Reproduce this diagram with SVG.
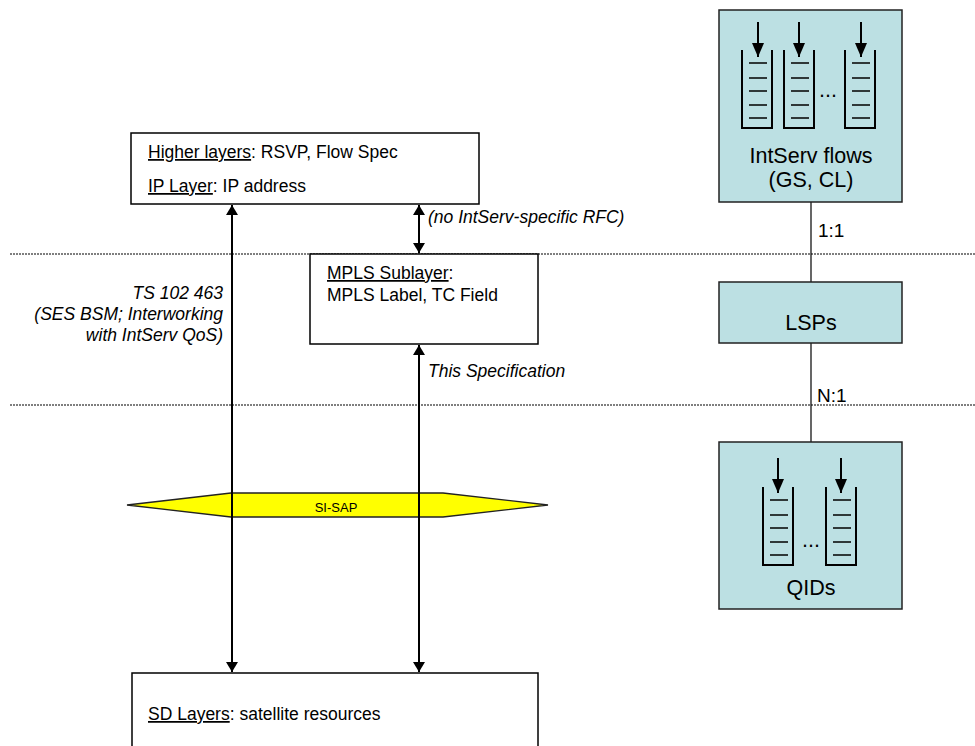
<svg xmlns="http://www.w3.org/2000/svg" width="975" height="746" viewBox="0 0 975 746">
<defs>
<style>
text{font-family:"Liberation Sans",Arial,sans-serif;fill:#000}
.t{font-size:17.5px}
.it{font-size:17.5px;font-style:italic}
.r{font-size:21.5px;text-anchor:middle}
.u{text-decoration:underline}
.box{fill:#fff;stroke:#000;stroke-width:1.5}
.tbox{fill:#BCE0E3;stroke:#222;stroke-width:1.5}
.dot{stroke:#000;stroke-width:1.2;stroke-dasharray:2 1;fill:none}
.arr{stroke:#000;stroke-width:2;fill:none}
.ln{stroke:#000;stroke-width:1.2;fill:none}
.q{stroke:#000;stroke-width:2;fill:none}
.qi{stroke:#000;stroke-width:1.5}
</style>
<marker id="ah" viewBox="0 0 10 12" refX="10" refY="6" markerWidth="10" markerHeight="12" markerUnits="userSpaceOnUse" orient="auto">
<path d="M0,0 L10,6 L0,12 Z" fill="#000"/>
</marker>
<marker id="ahs" viewBox="0 0 10 12" refX="10" refY="6" markerWidth="10" markerHeight="12" markerUnits="userSpaceOnUse" orient="auto-start-reverse">
<path d="M0,0 L10,6 L0,12 Z" fill="#000"/>
</marker>
<g id="queue">
<path class="q" d="M0,0 V78 H30 V0"/>
<path class="qi" d="M7,13 H25 M7,28 H25 M7,41 H25 M7,55 H25 M7,68 H25"/>
</g>
<marker id="qa" viewBox="0 0 12 14" refX="6" refY="14" markerWidth="12" markerHeight="14" markerUnits="userSpaceOnUse" orient="0">
<path d="M0,0 L12,0 L6,14 Z" fill="#000"/>
</marker>
</defs>
<rect width="975" height="746" fill="#fff"/>

<g id="separators">
<line class="dot" x1="10" y1="254" x2="975" y2="254"/>
<line class="dot" x1="10" y1="405" x2="975" y2="405"/>
</g>

<g id="higher-layers">
<rect class="box" x="131" y="133" width="348" height="71"/>
<text class="t" x="148" y="158"><tspan class="u">Higher layers</tspan>: RSVP, Flow Spec</text>
<text class="t" x="148" y="192"><tspan class="u">IP Layer</tspan>: IP address</text>
</g>

<g id="mpls-sublayer">
<rect class="box" x="310" y="254" width="228" height="90"/>
<text class="t" x="327" y="279"><tspan class="u">MPLS Sublayer</tspan>:</text>
<text class="t" x="327" y="301">MPLS Label, TC Field</text>
</g>

<g id="sd-layers">
<rect class="box" x="132" y="673" width="406" height="90"/>
<text class="t" x="148" y="720"><tspan class="u">SD Layers</tspan>: satellite resources</text>
</g>

<g id="si-sap">
<polygon points="127,505 231,493 443,493 548,505 443,517 231,517" fill="#FFFF00" stroke="#222" stroke-width="1.3"/>
</g>

<g id="connectors">
<line class="arr" x1="232" y1="205" x2="232" y2="672" marker-start="url(#ahs)" marker-end="url(#ah)"/>
<line class="arr" x1="419" y1="205" x2="419" y2="253" marker-start="url(#ahs)" marker-end="url(#ah)"/>
<line class="arr" x1="419" y1="345" x2="419" y2="672" marker-start="url(#ahs)" marker-end="url(#ah)"/>
<line class="ln" x1="811" y1="202" x2="811" y2="282"/>
<line class="ln" x1="811" y1="343" x2="811" y2="442"/>
</g>

<g id="si-sap-label">
<text x="336" y="512" style="font-size:13px;text-anchor:middle">SI-SAP</text>
</g>

<g id="labels">
<text class="it" x="428" y="223">(no IntServ-specific RFC)</text>
<text class="it" x="428" y="377">This Specification</text>
<text class="it" x="223" y="299" text-anchor="end">TS 102 463</text>
<text class="it" x="223" y="320" text-anchor="end">(SES BSM; Interworking</text>
<text class="it" x="223" y="341" text-anchor="end">with IntServ QoS)</text>
<text x="818" y="237" style="font-size:19px">1:1</text>
<text x="817" y="402" style="font-size:19px">N:1</text>
</g>

<g id="intserv-flows">
<rect class="tbox" x="719" y="10" width="183" height="192"/>
<use href="#queue" x="742" y="50"/>
<use href="#queue" x="784" y="50"/>
<use href="#queue" x="845" y="50"/>
<line class="arr" x1="758" y1="22" x2="758" y2="57" marker-end="url(#qa)" style="stroke-width:2"/>
<line class="arr" x1="799" y1="22" x2="799" y2="57" marker-end="url(#qa)"/>
<line class="arr" x1="861" y1="22" x2="861" y2="57" marker-end="url(#qa)"/>
<text x="819" y="97" style="font-size:21.5px">...</text>
<text class="r" x="811" y="163">IntServ flows</text>
<text class="r" x="811" y="187">(GS, CL)</text>
</g>

<g id="lsps">
<rect class="tbox" x="719" y="282" width="183" height="61"/>
<text class="r" x="811" y="330">LSPs</text>
</g>

<g id="qids">
<rect class="tbox" x="719" y="442" width="183" height="167"/>
<use href="#queue" x="763" y="487"/>
<use href="#queue" x="826" y="487"/>
<line class="arr" x1="778" y1="458" x2="778" y2="493" marker-end="url(#qa)"/>
<line class="arr" x1="841" y1="458" x2="841" y2="493" marker-end="url(#qa)"/>
<text x="802" y="547" style="font-size:21.5px">...</text>
<text class="r" x="811" y="595">QIDs</text>
</g>
</svg>
